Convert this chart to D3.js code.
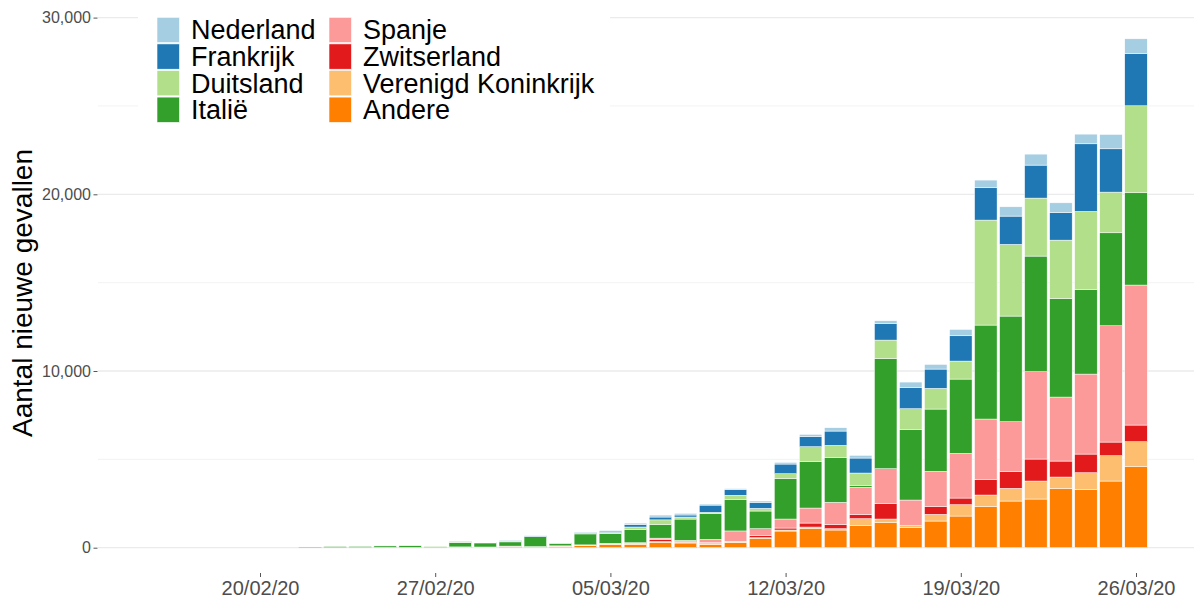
<!DOCTYPE html>
<html>
<head>
<meta charset="utf-8">
<script src="https://cdn.jsdelivr.net/npm/d3@7"></script>
<style>
  body { margin:0; background:#fff; }
  svg { display:block; font-family:"Liberation Sans", Arial, sans-serif; }
</style>
</head>
<body>
<div id="chart"></div>
<script>
// daily new cases
const dates = ["22/02/20","23/02/20","24/02/20","25/02/20","26/02/20","27/02/20","28/02/20","29/02/20",
  "01/03/20","02/03/20","03/03/20","04/03/20","05/03/20","06/03/20","07/03/20","08/03/20","09/03/20",
  "10/03/20","11/03/20","12/03/20","13/03/20","14/03/20","15/03/20","16/03/20","17/03/20","18/03/20",
  "19/03/20","20/03/20","21/03/20","22/03/20","23/03/20","24/03/20","25/03/20","26/03/20"];

const andere      = [0,0,5,10,10,10,35,30, 50,40,80,110,190,190,300,265,190, 283,509,943,1075,1000,1245,1415,1132,1509, 1792,2339,2640,2754,3357,3300,3772,4583];
const vk          = [0,0,0,0,0,0,0,0, 10,0,10,15,20,40,50,50,55, 40,57,57,94,75,396,207,113,377, 641,641,717,1018,641,943,1433,1415];
const zwitserland = [0,0,0,0,0,0,0,0, 10,0,5,15,20,20,130,55,55, 40,113,113,226,245,245,886,0,434, 377,886,943,1245,905,1056,773,943];
const spanje      = [0,0,0,0,0,0,10,10, 20,20,10,20,20,30,60,40,170, 585,396,509,849,1245,1528,1961,1452,1999, 2527,3414,2829,4941,3621,4526,6582,7922];
const italie      = [40,65,65,90,100,55,250,230, 240,560,140,620,540,760,775,1210,1470, 1792,1000,2301,2640,2546,113,6243,3998,3527, 4206,5319,5979,6545,5582,4791,5262,5224];
const duitsland   = [0,0,0,0,0,15,25,10, 40,20,10,30,75,130,260,115,60, 226,151,264,830,679,698,1037,1169,1169, 1018,5941,4055,3282,3300,4413,2301,4922];
const frankrijk   = [0,0,0,0,0,0,30,20, 40,30,20,50,75,140,160,115,410, 320,340,547,566,811,849,943,1207,1094, 1433,1830,1603,1867,1565,3829,2452,2961];
const nederland   = [0,0,0,0,0,0,0,0, 5,5,10,20,40,80,110,95,60, 57,75,94,132,189,151,151,302,264, 358,434,528,622,547,547,811,830];

const countries = ["Andere","Verenigd Koninkrijk","Zwitserland","Spanje","Italië","Duitsland","Frankrijk","Nederland"];
const values    = [andere, vk, zwitserland, spanje, italie, duitsland, frankrijk, nederland];
const colors    = ["#FF7F00","#FDBF6F","#E31A1C","#FB9A99","#33A02C","#B2DF8A","#1F78B4","#A6CEE3"];

const legendCol1 = ["Nederland","Frankrijk","Duitsland","Italië"];
const legendCol2 = ["Spanje","Zwitserland","Verenigd Koninkrijk","Andere"];

const yTicks = [0,10000,20000,30000];
const yMinor = [5000,15000,25000];
const xTicks = ["20/02/20","27/02/20","05/03/20","12/03/20","19/03/20","26/03/20"];

const W = 1194, H = 600;
const panel = { left:98, right:1194, top:13, bottom:573 };

const parse = d3.utcParse("%d/%m/%y");
const rows = dates.map((d,i) => {
  const r = { date: parse(d) };
  countries.forEach((c,k) => r[c] = values[k][i]);
  return r;
});
const color = d3.scaleOrdinal().domain(countries).range(colors);

const svg = d3.select("#chart").append("svg").attr("width",W).attr("height",H);

const x = d3.scaleUtc().domain([parse("20/02/20"), parse("26/03/20")]).range([260,1136]);
const y = d3.scaleLinear().domain([0,30000]).range([547.7,17.6]);
const dayW = x(parse("21/02/20")) - x(parse("20/02/20"));
const barW = dayW*0.9;

// grid
svg.append("g").selectAll("line").data(yMinor).join("line")
  .attr("x1",panel.left).attr("x2",panel.right).attr("y1",d=>y(d)).attr("y2",d=>y(d))
  .attr("stroke","#f0f0f0").attr("stroke-width",0.8);
svg.append("g").selectAll("line").data(yTicks).join("line")
  .attr("x1",panel.left).attr("x2",panel.right).attr("y1",d=>y(d)).attr("y2",d=>y(d))
  .attr("stroke","#ebebeb").attr("stroke-width",1.3);

// bars
const series = d3.stack().keys(countries)(rows);
svg.append("g").selectAll("g").data(series).join("g")
  .attr("fill", s => color(s.key))
  .selectAll("rect").data(s => s.filter(d => d[1]-d[0] > 0)).join("rect")
  .attr("x", d => x(d.data.date) - barW/2).attr("width", barW)
  .attr("y", d => y(d[1])).attr("height", d => y(d[0]) - y(d[1]))
  .attr("stroke","#fff").attr("stroke-width",0.5);

// axes
const yAxis = svg.append("g").attr("transform",`translate(${panel.left-0.5},0)`)
  .call(d3.axisLeft(y).tickValues(yTicks).tickSize(4).tickPadding(2.5).tickFormat(d3.format(",")));
yAxis.select(".domain").remove();
yAxis.selectAll("line").attr("stroke","#555");
yAxis.selectAll("text").attr("fill","#4d4d4d").style("font-size","16px").style("font-family","Liberation Sans, Arial, sans-serif");

const xAxis = svg.append("g").attr("transform",`translate(0,${panel.bottom})`)
  .call(d3.axisBottom(x).tickValues(xTicks.map(parse)).tickSize(4).tickPadding(4).tickFormat(d3.utcFormat("%d/%m/%y")));
xAxis.select(".domain").remove();
xAxis.selectAll("line").attr("stroke","#555");
xAxis.selectAll("text").attr("fill","#4d4d4d").style("font-size","20px").style("font-family","Liberation Sans, Arial, sans-serif");

svg.append("text").attr("transform",`translate(32,${(panel.top+panel.bottom)/2}) rotate(-90)`)
  .attr("text-anchor","middle").attr("fill","#000").style("font-size","28px")
  .text("Aantal nieuwe gevallen");

// legend
const lg = svg.append("g");
lg.append("rect").attr("x",138).attr("y",4).attr("width",472).attr("height",130).attr("fill","#fff");
[[legendCol1,157],[legendCol2,329]].forEach(([names,lx]) => {
  names.forEach((n,i) => {
    const ty = 17.3 + i*26.6;
    lg.append("rect").attr("x",lx).attr("y",ty).attr("width",22.5).attr("height",25.3)
      .attr("fill",color(n)).attr("stroke","#fff").attr("stroke-width",0.6);
    lg.append("text").attr("x",lx+34).attr("y",ty+12.6).attr("dy","0.35em")
      .style("font-size","27px").attr("fill","#000").text(n);
  });
});
</script>
</body>
</html>
